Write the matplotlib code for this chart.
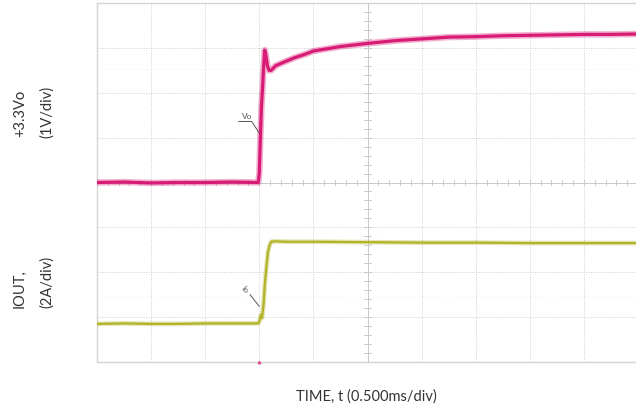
import numpy as np
import matplotlib.pyplot as plt

vo_t = [0.0, 0.5, 1.0, 1.5, 2.0, 2.5, 2.98, 3.0, 3.02, 3.04, 3.06, 3.08, 3.1, 3.12,
        3.15, 3.18, 3.22, 3.3, 3.45, 3.65, 3.85, 4.0, 4.5, 5.0, 5.5, 6.0, 6.5,
        7.0, 7.5, 8.0, 8.5, 9.0, 9.5, 10.0]
vo_v = [4.0, 4.01, 3.99, 4.0, 4.0, 4.01, 4.0, 4.2, 5.0, 5.7, 6.1, 6.6, 6.95, 6.85,
        6.6, 6.5, 6.5, 6.6, 6.68, 6.78, 6.86, 6.93, 7.03, 7.1, 7.16, 7.2, 7.24,
        7.25, 7.27, 7.28, 7.29, 7.3, 7.3, 7.31]

io_t = [0.0, 0.5, 1.0, 1.5, 2.0, 2.5, 2.98, 3.0, 3.03, 3.05, 3.08, 3.1, 3.13,
        3.16, 3.19, 3.22, 3.3, 3.5, 4.0, 5.0, 6.0, 7.0, 8.0, 9.0, 10.0]
io_v = [0.85, 0.86, 0.85, 0.85, 0.86, 0.86, 0.86, 0.9, 1.05, 0.98, 1.3, 1.7, 2.1,
        2.45, 2.6, 2.68, 2.69, 2.68, 2.68, 2.67, 2.66, 2.66, 2.65, 2.65, 2.65]

pink = '#d81b74'
olive = '#b3b328'
grid_col = '#cfcfcf'
axis_col = '#c4c4c4'

plt.rcParams['font.family'] = ['Lato', 'DejaVu Sans']

fig = plt.figure(figsize=(6.36, 4.10), dpi=100)
ax = fig.add_axes([97 / 636, 47 / 410, 541 / 636, 359 / 410])
ax.set_xlim(0, 10)
ax.set_ylim(0, 8)

# graticule
for x in range(1, 10):
    ax.axvline(x, color=grid_col, lw=0.7, ls=(0, (1, 1.5)), zorder=1)
for y in range(1, 8):
    ax.axhline(y, color=grid_col, lw=0.7, ls=(0, (1, 1.5)), zorder=1)
ax.axhline(6.53, color='#e0e0e0', lw=0.6, ls=(0, (1, 4)), zorder=1)
ax.axhline(1.45, color='#e0e0e0', lw=0.6, ls=(0, (1, 4)), zorder=1)

# centre axes with minor ticks
ax.axhline(4, color=axis_col, lw=0.6, zorder=1)
ax.axvline(5, color=axis_col, lw=0.6, zorder=1)
minor_x = np.arange(0, 10.01, 0.2)
minor_y = np.arange(0, 8.01, 0.2)
ax.plot(np.repeat(minor_x, 3), np.tile([3.95, 4.05, np.nan], len(minor_x)),
        color=axis_col, lw=0.6, zorder=1)
ax.plot(np.tile([4.94, 5.06, np.nan], len(minor_y)), np.repeat(minor_y, 3),
        color=axis_col, lw=0.6, zorder=1)

for s in ax.spines.values():
    s.set_color('#d4d4d4')
    s.set_linewidth(1.0)
ax.set_xticks([])
ax.set_yticks([])

# traces: a soft wide band plus a solid core
ax.plot(vo_t, vo_v, color=pink, lw=4.6, alpha=0.35, solid_joinstyle='round', zorder=3)
ax.plot(vo_t, vo_v, color=pink, lw=2.3, zorder=4)
ax.plot(io_t, io_v, color=olive, lw=3.4, alpha=0.35, solid_joinstyle='round', zorder=3)
ax.plot(io_t, io_v, color=olive, lw=1.6, zorder=4)

# probe labels with leader lines
lab = '#555555'
ax.text(2.77, 5.5, 'Vo', fontsize=6, color=lab, ha='center', va='center')
ax.plot([2.62, 2.86, 3.0], [5.36, 5.36, 5.1], color=lab, lw=0.7, zorder=5)
ax.text(2.73, 1.63, 'Io', fontsize=6, color=lab, ha='center', va='center', rotation=-45)
ax.plot([2.83, 3.0], [1.5, 1.24], color=lab, lw=0.7, zorder=5)
ax.plot([3.0], [0.0], marker='^', ms=2, color=pink, alpha=0.6, clip_on=False, zorder=5)

txt = dict(fontsize=10.5, color='#333333', rotation=90)
fig.text(20 / 636, 1 - 113 / 410, '+3.3Vo', ha='center', va='center', **txt)
fig.text(47 / 636, 1 - 112 / 410, '(1V/div)', ha='center', va='center', **txt)
fig.text(20 / 636, 1 - 308 / 410, 'IOUT,', ha='center', va='bottom', **txt)
fig.text(47 / 636, 1 - 308 / 410, '(2A/div)', ha='center', va='bottom', **txt)
fig.text(366 / 636, 1 - 397 / 410, 'TIME, t (0.500ms/div)', ha='center', va='center',
         fontsize=10.5, color='#333333')

fig.savefig('out.png', dpi=100)
